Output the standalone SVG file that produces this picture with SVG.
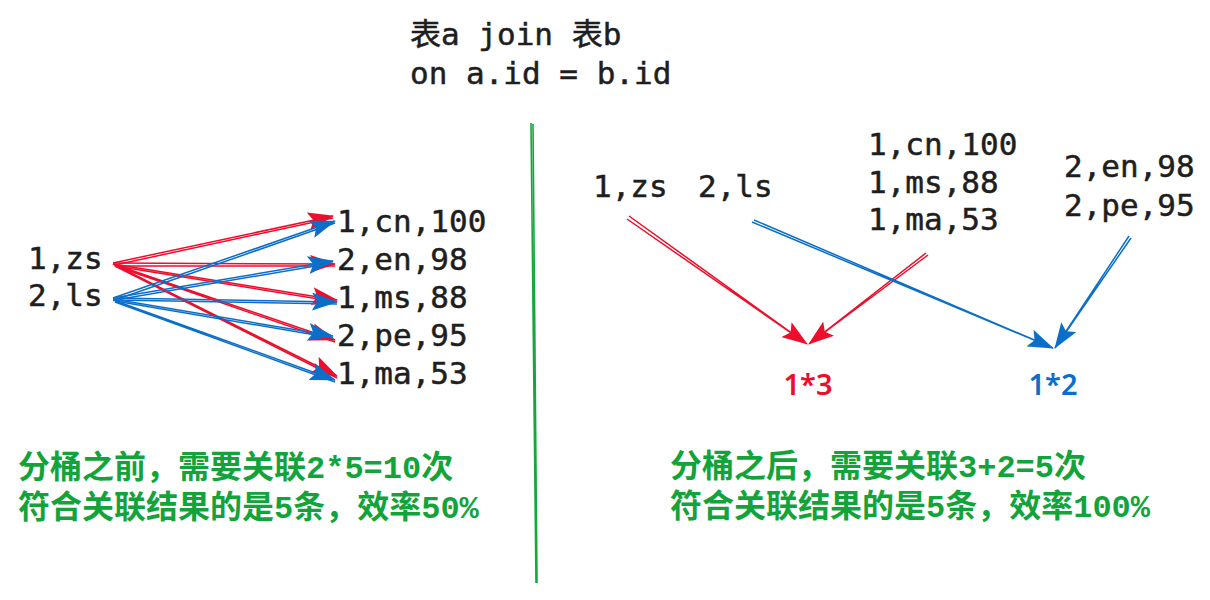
<svg xmlns="http://www.w3.org/2000/svg" width="1210" height="600" viewBox="0 0 1210 600">
<style>
.mono{font-family:"DejaVu Sans Mono","Liberation Mono","Noto Sans CJK SC",monospace;font-size:31px;fill:#1e1e1e;stroke:#1e1e1e;stroke-width:0.5}
.note{font-family:"Liberation Mono","Noto Sans CJK SC",monospace;font-size:32px;font-weight:600;fill:#12a43a}
.cnt{font-family:"Noto Sans","Noto Sans CJK SC",sans-serif;font-size:29px;font-weight:600;text-anchor:middle}
.r{stroke:#ee0d2b;stroke-width:1.5;fill:none;marker-end:url(#ar)}
.b{stroke:#0b6fca;stroke-width:1.5;fill:none;marker-end:url(#ab)}
</style>
<defs>
<marker id="ar" viewBox="0 0 26 18" refX="25" refY="9" markerWidth="26" markerHeight="18" markerUnits="userSpaceOnUse" orient="auto"><path d="M0,0 L26,9 L0,18 L5,9 Z" fill="#ee0d2b"/></marker>
<marker id="ab" viewBox="0 0 26 18" refX="25" refY="9" markerWidth="26" markerHeight="18" markerUnits="userSpaceOnUse" orient="auto"><path d="M0,0 L26,9 L0,18 L5,9 Z" fill="#0b6fca"/></marker>
</defs>
<rect width="1210" height="600" fill="#ffffff"/>
<g id="title">
<text class="mono" x="410" y="45">表a join 表b</text>
<text class="mono" x="410" y="84">on a.id = b.id</text>
</g>
<g id="divider">
<path d="M531,123 L536,583 M533,124 L537,583" stroke="#14a83c" stroke-width="1.6" fill="none"/>
</g>
<g id="left-a">
<text class="mono" x="28" y="269">1,zs</text>
<text class="mono" x="28" y="306">2,ls</text>
</g>
<g id="left-b">
<text class="mono" x="337" y="232">1,cn,100</text>
<text class="mono" x="337" y="270">2,en,98</text>
<text class="mono" x="337" y="308">1,ms,88</text>
<text class="mono" x="337" y="346">2,pe,95</text>
<text class="mono" x="337" y="384">1,ma,53</text>
</g>
<g id="right-a">
<text class="mono" x="593" y="197">1,zs</text>
<text class="mono" x="698" y="197">2,ls</text>
</g>
<g id="bucket-1">
<text class="mono" x="868" y="155">1,cn,100</text>
<text class="mono" x="868" y="193">1,ms,88</text>
<text class="mono" x="868" y="230">1,ma,53</text>
</g>
<g id="bucket-2">
<text class="mono" x="1064" y="177">2,en,98</text>
<text class="mono" x="1064" y="216">2,pe,95</text>
</g>
<g id="counts">
<text class="cnt" x="808" y="395" fill="#ee0d2b">1*3</text>
<text class="cnt" x="1053" y="395" fill="#0b6fca">1*2</text>
</g>
<g id="note-left">
<text class="note" x="18" y="478">分桶之前，需要关联2*5=10次</text>
<text class="note" x="18" y="518">符合关联结果的是5条，效率50%</text>
</g>
<g id="note-right">
<text class="note" x="670" y="477">分桶之后，需要关联3+2=5次</text>
<text class="note" x="670" y="517">符合关联结果的是5条，效率100%</text>
</g>
<g id="connectors">
<path class="r" d="M115,265 L333,218 M113,263 L333,216"/>
<path class="r" d="M115,266 L335,266 M113,263 L335,264"/>
<path class="r" d="M115,266 L337,302 M113,264 L337,300"/>
<path class="r" d="M115,266 L335,342 M113,264 L335,340"/>
<path class="r" d="M115,266 L337,378 M113,264 L337,376"/>
<path class="b" d="M115,300 L335,223 M113,298 L335,221"/>
<path class="b" d="M115,300 L333,263 M113,298 L333,261"/>
<path class="b" d="M115,300 L337,304 M113,298 L337,302"/>
<path class="b" d="M115,301 L333,338 M113,299 L333,336"/>
<path class="b" d="M115,302 L335,382 M113,300 L335,380"/>
<path class="r" d="M629,216 L807,344 M627,219 L807,344"/>
<path class="r" d="M928,255 L809,344 M926,253 L809,344"/>
<path class="b" d="M752,222 L1053,348 M754,220 L1053,348"/>
<path class="b" d="M1131,238 L1055,348 M1129,236 L1055,348"/>
</g>
</svg>
